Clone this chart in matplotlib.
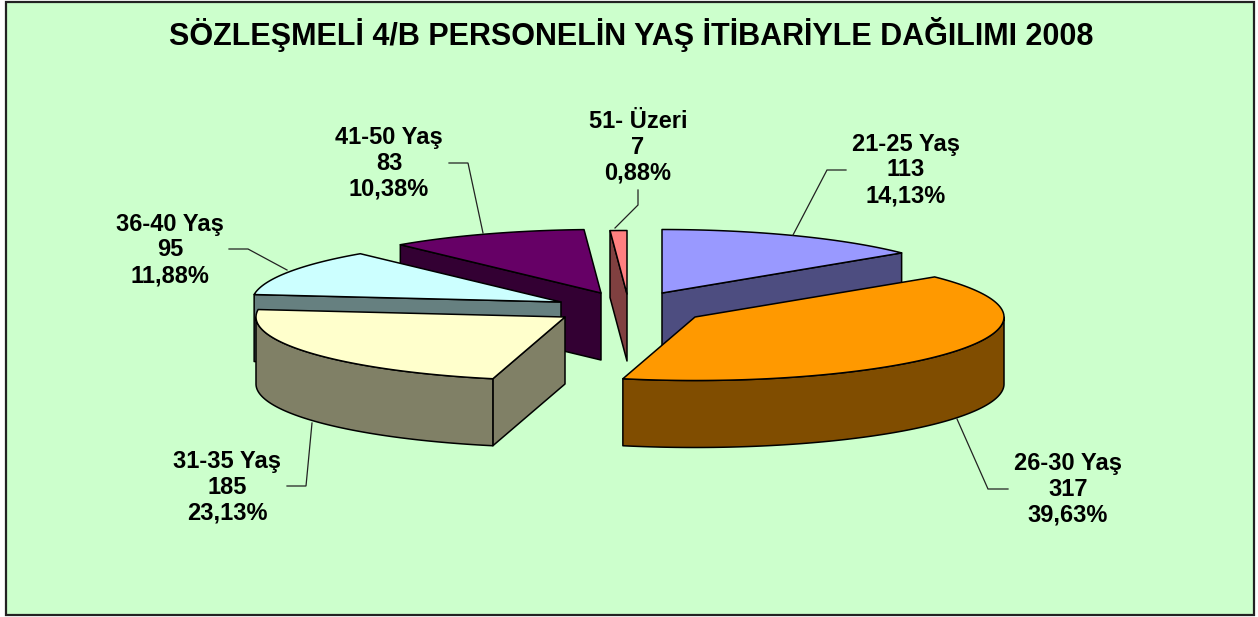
import numpy as np
import matplotlib
matplotlib.use('Agg')
import matplotlib.pyplot as plt
from matplotlib.patches import Polygon, Rectangle

plt.rcParams['font.family'] = ['Liberation Sans', 'DejaVu Sans']

title = 'SÖZLEŞMELİ 4/B PERSONELİN YAŞ İTİBARİYLE DAĞILIMI 2008'
categories = ['21-25 Yaş', '26-30 Yaş', '31-35 Yaş', '36-40 Yaş', '41-50 Yaş', '51- Üzeri']
values = [113, 317, 185, 95, 83, 7]

top_colors = ['#9999FF', '#FF9900', '#FFFFCC', '#CCFFFF', '#660066', '#FF8080']
side_colors = ['#4D4D80', '#804D00', '#808066', '#668080', '#330033', '#804040']

# where each exploded slice has its apex, in image pixels
apex_x = [662, 695, 565, 561, 601, 627]
apex_y = [293, 317, 317, 302, 293, 294]
rx, ry, depth = 309, 63.5, 67

# label centre and leader line for each slice
label_x = [906, 1068, 227, 170, 389, 638]
label_y = [170, 489, 487, 250, 163, 147]
leaders = [
    [(793, 235), (827, 170), (846, 170)],
    [(957, 419), (988, 489), (1008, 489)],
    [(312, 423), (306, 486), (287, 486)],
    [(287, 270), (248, 249), (229, 249)],
    [(483, 233), (468, 163), (449, 163)],
    [(615, 228), (638, 205), (638, 190)],
]


def rim(cx, cy, a0, a1):
    # clock angles in radians, 0 at 12 o'clock
    n = max(2, int(np.degrees(a1 - a0)) + 2)
    t = np.linspace(a0, a1, n)
    return np.column_stack([cx + rx * np.sin(t), cy - ry * np.cos(t)])


def draw_slice(ax, i, a0, a1):
    cx, cy = apex_x[i], apex_y[i]
    style = dict(edgecolor='black', linewidth=1.1, joinstyle='round')
    down = np.array([0, depth])
    p0 = rim(cx, cy, a0, a0)[0]
    p1 = rim(cx, cy, a1, a1)[0]
    c = np.array([cx, cy])

    # radial cut faces, only those turned towards the viewer
    if np.sin(a0) < -1e-6:
        ax.add_patch(Polygon([c, p0, p0 + down, c + down], facecolor=side_colors[i], **style))
    if np.sin(a1) > 1e-6:
        ax.add_patch(Polygon([c, p1, p1 + down, c + down], facecolor=side_colors[i], **style))

    # outer wall, front half of the ellipse only
    lo = max(a0, np.pi / 2)
    hi = min(a1, 3 * np.pi / 2)
    if hi > lo:
        arc = rim(cx, cy, lo, hi)
        ax.add_patch(Polygon(np.vstack([arc, arc[::-1] + down]), facecolor=side_colors[i], **style))

    top = np.vstack([c, rim(cx, cy, a0, a1)])
    ax.add_patch(Polygon(top, facecolor=top_colors[i], **style))


fig = plt.figure(figsize=(12.58, 6.17), dpi=100, facecolor='white')
ax = fig.add_axes([0, 0, 1, 1])
ax.set_xlim(0, 1258)
ax.set_ylim(617, 0)
ax.axis('off')

ax.add_patch(Rectangle((6, 2), 1248, 613, facecolor='#CCFFCC', edgecolor='#222222', linewidth=1.6))

total = sum(values)
edges = np.concatenate([[0], np.cumsum(values)]) / total * 2 * np.pi
mids = (edges[:-1] + edges[1:]) / 2

# back to front
order = sorted(range(len(values)), key=lambda k: apex_y[k] - ry * np.cos(mids[k]))
for i in order:
    draw_slice(ax, i, edges[i], edges[i + 1])

for i, name in enumerate(categories):
    xs, ys = zip(*leaders[i])
    ax.plot(xs, ys, color='#222222', linewidth=0.9, solid_joinstyle='miter')
    pct = f'{values[i] / total * 100 + 1e-9:.2f}'.replace('.', ',')
    ax.text(label_x[i], label_y[i], f'{name}\n{values[i]}\n{pct}%', ha='center', va='center',
            fontsize=17, fontweight='bold', color='black', linespacing=1.14)

ax.text(631, 34, title, ha='center', va='center', fontsize=22, fontweight='bold', color='black')

fig.savefig('out.png', dpi=100)
